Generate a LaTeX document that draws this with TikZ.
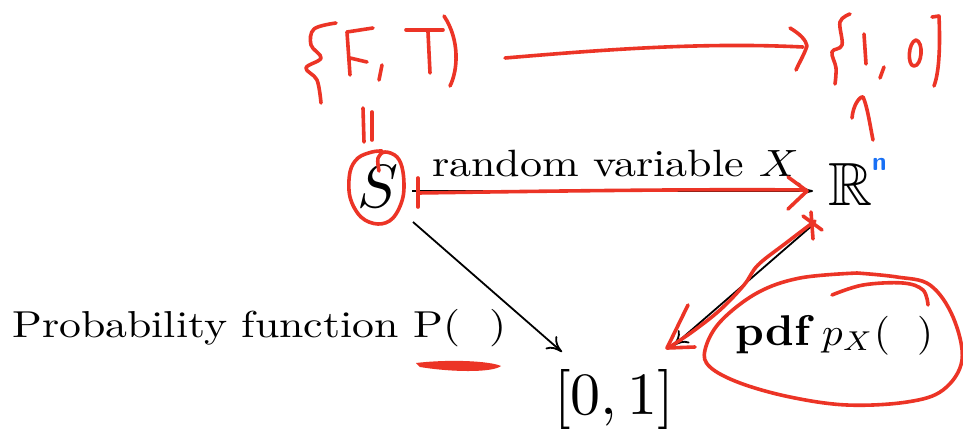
\documentclass[tikz,border=0pt]{standalone}
\usepackage{amssymb}
\usepackage{graphicx}
\usetikzlibrary{arrows.meta,calc}
\definecolor{penred}{RGB}{236,52,38}
\definecolor{penblue}{RGB}{24,112,245}
\begin{document}
\begin{tikzpicture}[x=1pt,y=-1pt,
  txt/.style={inner sep=0pt, anchor=base west},
  mth/.style={inner sep=0pt, anchor=base},
  arr/.style={line width=1.8pt, -{To[length=15pt,width=17pt]}},
  pen/.style={draw=penred, line width=3.6pt, line cap=round, line join=round},
]
\useasboundingbox (0,0) rectangle (963,429);
\fill[white] (0,0) rectangle (963,429);

% main diagram
\node[mth] (S) at (378,207) {\scalebox{6.1}{$S$}};
\node[mth] (R) at (851,205) {\scalebox{6.1}{$\mathbb{R}$}};
\node[mth] (I) at (614,414) {\scalebox{6}{$[0,1]$}};
\node[txt] (rv) at (432,176) {\scalebox{4.4}[3.8]{random variable $X$}};
\node[txt] (pf) at (12,337) {\scalebox{4.38}[3.75]{Probability function P(\ \ )}};
\node[txt] (pdf) at (735,345) {\scalebox{4.5}[4.3]{\textbf{pdf}}};
\node[txt] (px) at (822,345) {\scalebox{4.1}[3.9]{$p_X(\ \ )$}};
\node[txt, text=penblue] (n) at (872,170) {\scalebox{2.6}{\sffamily\bfseries n}};

\draw[arr] ($(S.base)+(34,-16)$) -- ($(R.base)+(-38,-14)$);
\draw[arr] ($(S.base)+(35,15)$) -- ($(I.base)+(-52,-62)$);
\draw[arr] ($(R.base)+(-36,18)$) -- ($(I.base)+(59,-68)$);

% red annotations: {F, T)
\draw[pen] plot[smooth, tension=0.6] coordinates {(336,23) (314,29) (311,45) (321,58) (306,68) (317,80) (321,103)};
\draw[pen] (347,32) -- (350,75);
\draw[pen] (347,32) -- (373,28);
\draw[pen] (350,58) -- (367,62);
\draw[pen] (382,65) -- (379,80);
\draw[pen] (406,30) -- (443,30);
\draw[pen] (428,32) -- (430,73);
\draw[pen] (444,16) .. controls (460,40) and (458,70) .. (450,86);

% {1, 0]
\draw[pen] plot[smooth, tension=0.6] coordinates {(850,14) (840,22) (842,45) (832,52) (836,68) (835,84)};
\draw[pen] (864,34) -- (866,64);
\draw[pen] (884,67) -- (880,78);
\draw[pen] (916,40) .. controls (908,42) and (907,66) .. (914,66) .. controls (922,66) and (924,42) .. cycle;
\draw[pen] (932,17) -- (939,16) .. controls (940,40) and (940,70) .. (934,86);

% top arrow
\draw[pen] (505,58) .. controls (600,50) and (700,42) .. (803,47);
\draw[pen] (790,28) .. controls (800,34) and (806,40) .. (807,46) .. controls (804,55) and (799,63) .. (796,70);

% equals / subset marks
\draw[pen] (363,108) -- (364,142);
\draw[pen] (372,112) -- (372,140);
\draw[pen] (852,118) .. controls (853,105) and (860,96) .. (863,97) .. controls (867,105) and (870,125) .. (873,140);

% circle around S
\draw[pen] plot[smooth, tension=0.6] coordinates {(379,171) (378,158) (385,152) (397,157) (403,172) (403,197) (393,218) (378,224) (361,217) (350,197) (350,172) (358,158) (372,152) (382,151)};

% red arrow over random variable
\draw[pen] (418,178) -- (418,207);
\draw[pen] (418,193) .. controls (550,191) and (700,189) .. (806,190);
\draw[pen] (788,177) -- (807,191) -- (788,209);

% red arrow R -> [0,1]
\draw[pen] plot[smooth, tension=0.6] coordinates {(815,221) (786,243) (758,265) (744,285) (720,310) (692,332) (668,348)};
\draw[pen] (688,305) -- (667,348) -- (695,347);
\draw[pen] (803,216) -- (822,230);
\draw[pen] (811,212) -- (813,239);

% underline under P(
\fill[penred] (416,363) .. controls (450,359) and (490,361) .. (501,366) .. controls (492,373) and (450,372) .. (420,367) -- cycle;

% loop around pdf
\draw[pen] plot[smooth, tension=0.6] coordinates {(857,273) (800,278) (757,293) (720,322) (705,350) (710,367) (740,383) (790,397) (847,405) (907,402) (943,390) (962,360) (953,317) (930,285) (897,277) (857,273)};
\draw[pen] plot[smooth, tension=0.6] coordinates {(832,295) (863,285) (903,283) (923,290) (928,305)};
\end{tikzpicture}
\end{document}
